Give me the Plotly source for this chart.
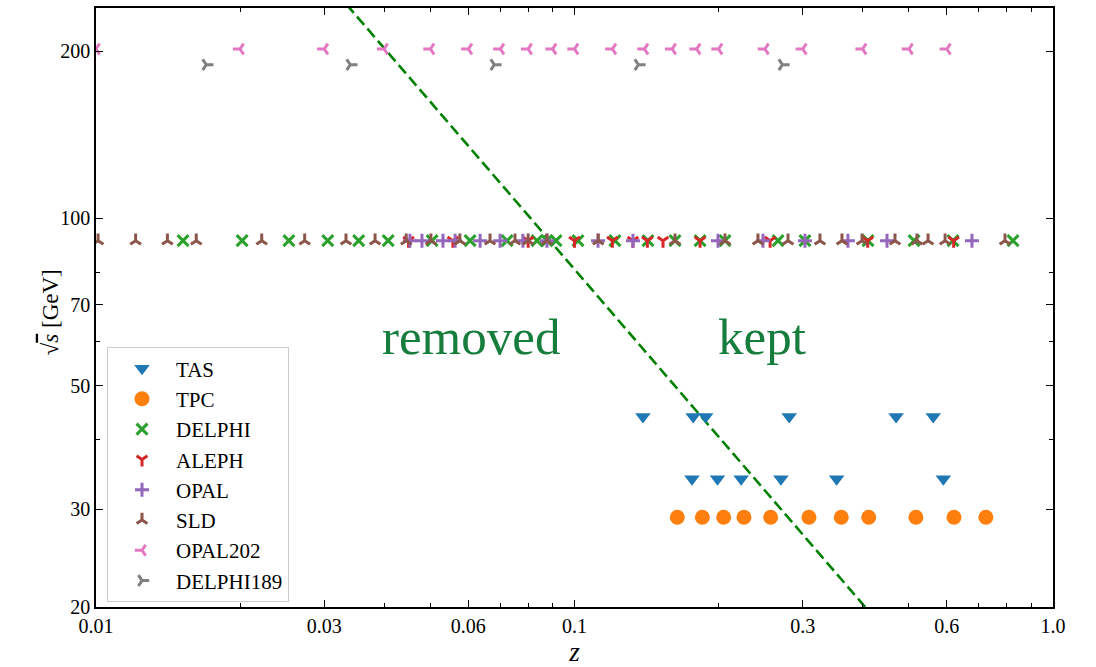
import plotly.graph_objects as go

SERIF = "Liberation Serif"

# ---- measurements: momentum fraction z at each centre-of-mass energy sqrt(s) [GeV] ----
tas_z = [0.139, 0.177, 0.188, 0.281, 0.470, 0.562,
         0.176, 0.199, 0.223, 0.270, 0.353, 0.590]
tas_sqrt_s = [44, 44, 44, 44, 44, 44,
              34, 34, 34, 34, 34, 34]

tpc_z = [0.164, 0.185, 0.205, 0.226, 0.257, 0.309, 0.361, 0.412, 0.517, 0.621, 0.724]
tpc_sqrt_s = [29, 29, 29, 29, 29, 29, 29, 29, 29, 29, 29]

delphi_z = [0.0152, 0.0202, 0.0253, 0.0305, 0.0354, 0.0408, 0.0504, 0.0605, 0.0723,
            0.0835, 0.0876, 0.0915, 0.1017, 0.1215, 0.1424, 0.1622, 0.1830, 0.2063,
            0.2663, 0.3031, 0.4106, 0.5124, 0.6180, 0.8250]
delphi_sqrt_s = [91.2] * len(delphi_z)

aleph_z = [0.0450, 0.0557, 0.0800, 0.1000, 0.1200, 0.1325, 0.1420, 0.1531,
           0.1830, 0.2563, 0.4100, 0.6200]
aleph_sqrt_s = [91.2] * len(aleph_z)

opal_z = [0.0453, 0.0480, 0.0531, 0.0563, 0.0635, 0.0699, 0.0780, 0.0876, 0.1120,
          0.1325, 0.1995, 0.2477, 0.3031, 0.3728, 0.4499, 0.6771]
opal_sqrt_s = [91.2] * len(opal_z)

sld_z = [0.0101, 0.0121, 0.0141, 0.0162, 0.0222, 0.0273, 0.0333, 0.0383, 0.0445,
         0.0501, 0.0576, 0.0666, 0.0751, 0.0800, 0.0876, 0.1121, 0.1622, 0.2063,
         0.2418, 0.2794, 0.3258, 0.3622, 0.3989, 0.4675, 0.5197, 0.5481, 0.5949, 0.7937]
sld_sqrt_s = [91.2] * len(sld_z)

opal202_z = [0.010, 0.020, 0.030, 0.040, 0.050, 0.060, 0.070, 0.080, 0.090, 0.100,
             0.120, 0.140, 0.160, 0.180, 0.200, 0.250, 0.300, 0.400, 0.500, 0.600]
opal202_sqrt_s = [201.7] * len(opal202_z)

delphi189_z = [0.017, 0.034, 0.068, 0.136, 0.272]
delphi189_sqrt_s = [189] * len(delphi189_z)

# kinematic cut z > E_cut / sqrt(s)
cut_energy = 8.1
cut_sqrt_s = [20, 240]

# axis ticks
x_major = [0.01, 0.03, 0.06, 0.1, 0.3, 0.6, 1.0]
x_major_text = ["0.01", "0.03", "0.06", "0.1", "0.3", "0.6", "1.0"]
x_minor = [0.02, 0.04, 0.05, 0.07, 0.08, 0.09, 0.2, 0.4, 0.5, 0.7, 0.8, 0.9]
y_major = [20, 30, 50, 70, 100, 200]
y_minor = [40, 60, 80]

series = [
    ("TAS", tas_z, tas_sqrt_s, "#1f77b4", "triangle-down", 13.5, 0),
    ("TPC", tpc_z, tpc_sqrt_s, "#ff7f0e", "circle", 15, 0),
    ("DELPHI", delphi_z, delphi_sqrt_s, "#2ca02c", "x-thin", 11, 3),
    ("ALEPH", aleph_z, aleph_sqrt_s, "#d62728", "y-down", 9, 3),
    ("OPAL", opal_z, opal_sqrt_s, "#9467bd", "cross-thin", 10, 3),
    ("SLD", sld_z, sld_sqrt_s, "#8c564b", "y-up", 9, 3),
    ("OPAL202", opal202_z, opal202_sqrt_s, "#e377c2", "y-left", 9, 3),
    ("DELPHI189", delphi189_z, delphi189_sqrt_s, "#7f7f7f", "y-right", 9, 3),
]

fig = go.Figure()

# cut line
fig.add_trace(go.Scatter(
    x=[cut_energy / s for s in cut_sqrt_s], y=cut_sqrt_s,
    mode="lines", line=dict(color="#008000", width=2.6, dash="11px,5px"),
    showlegend=False, hoverinfo="skip",
))

for name, zs, ss, color, symbol, size, lw in series:
    if lw:
        marker = dict(symbol=symbol, size=size, color=color,
                      line=dict(color=color, width=lw))
    else:
        marker = dict(symbol=symbol, size=size, color=color, line=dict(width=0))
    fig.add_trace(go.Scatter(x=zs, y=ss, mode="markers", name=name, marker=marker))

for text, xpos in [("removed", 0.392), ("kept", 0.6964)]:
    fig.add_annotation(
        text=text, x=xpos, y=0.4508, xref="paper", yref="paper",
        xanchor="center", yanchor="middle", showarrow=False,
        font=dict(family=SERIF, size=51, color="#167d3d"),
    )

# y-axis title, placed beside the tick labels
fig.add_annotation(
    text="√<span style='text-decoration:overline'><i>s</i></span> [GeV]",
    x=-0.048, y=0.492, xref="paper", yref="paper", textangle=-90,
    xanchor="center", yanchor="middle", showarrow=False,
    font=dict(family=SERIF, size=23, color="black"),
)

axis_common = dict(
    type="log", showgrid=False, zeroline=False,
    showline=True, linecolor="black", linewidth=1.5, mirror="allticks",
    ticks="inside", ticklen=7, tickwidth=1.3, tickcolor="black",
    tickfont=dict(family=SERIF, size=20, color="black"),
)

fig.update_xaxes(
    **axis_common,
    range=[-2, 0],
    tickvals=x_major, ticktext=x_major_text,
    minor=dict(tickvals=x_minor, ticks="inside", ticklen=4, tickwidth=1, tickcolor="black"),
    title=dict(text="<i>z</i>", font=dict(family=SERIF, size=27, color="black"), standoff=14),
)
fig.update_yaxes(
    **axis_common,
    range=[1.30103, 2.3785],
    tickvals=y_major, ticktext=[str(v) for v in y_major],
    minor=dict(tickvals=y_minor, ticks="inside", ticklen=4, tickwidth=1, tickcolor="black"),
)

fig.update_layout(
    width=1096, height=667,
    font=dict(family=SERIF, color="black"),
    margin=dict(l=96, r=43, t=8, b=60, autoexpand=False),
    plot_bgcolor="white", paper_bgcolor="white",
    legend=dict(
        x=0.0115, y=0.4335, xanchor="left", yanchor="top",
        bgcolor="white", bordercolor="#cccccc", borderwidth=1,
        font=dict(family=SERIF, size=21, color="black"),
        itemwidth=58,
    ),
)

fig.write_html("out.html")
